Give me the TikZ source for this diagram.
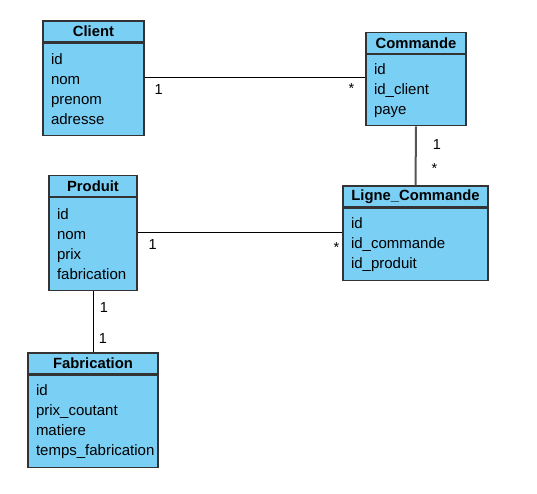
\documentclass[tikz,border=0pt]{standalone}
\usepackage{fontspec}
\setmainfont{Liberation Sans}
\usetikzlibrary{positioning}
\definecolor{classblue}{HTML}{7ACFF5}
\definecolor{classline}{HTML}{333333}
\definecolor{linkgray}{HTML}{555555}
\tikzset{
%Define style for the class boxes
class head/.style={draw=classline, fill=classblue, line width=1.2pt,
  minimum height=21pt, inner sep=0pt, font=\fontsize{14.8}{20}\selectfont\bfseries},
class body/.style={draw=classline, fill=classblue, line width=1.2pt,
  minimum height=#1, inner xsep=8pt, inner ysep=0pt, align=left,
  font=\fontsize{15}{20}\selectfont},
%Define style for the connections
link/.style={draw=black, line width=1pt},
strong link/.style={draw=linkgray, line width=2pt},
mult/.style={font=\fontsize{14.5}{16}\selectfont, inner sep=0pt},
}

\begin{document}
\begin{tikzpicture}[x=1pt,y=-1pt]
    \useasboundingbox (0,0) rectangle (537,494);
    % Heights of the connections
    \coordinate (y1) at (0,78);
    \coordinate (y2) at (0,232);

    % Classes
    \node[class head, minimum width=101pt] (client) at (93.5,31.5) {Client};
    \node[class body=92pt, text width=85pt, below=0pt of client] (clientb) {id\\nom\\prenom\\adresse};

    \node[class head, minimum width=100pt] (commande) at (416,43) {Commande};
    \node[class body=71pt, text width=84pt, below=0pt of commande] (commandeb) {id\\id\_client\\paye};

    \node[class head, minimum width=145pt] (ligne) at (415.5,196.5) {Ligne\_Commande};
    \node[class body=72pt, text width=129pt, below=0pt of ligne] (ligneb) {id\\id\_commande\\id\_produit};

    \node[class head, minimum width=88pt] (produit) at (93,186) {Produit};
    \node[class body=93pt, text width=72pt, below=0pt of produit] (produitb) {id\\nom\\prix\\fabrication};

    \node[class head, minimum width=130pt] (fabrication) at (93,363.5) {Fabrication};
    \node[class body=92pt, text width=114pt, below=0pt of fabrication] (fabricationb) {id\\prix\_coutant\\matiere\\temps\_fabrication};

    % Connections with multiplicities
    \draw[link] (clientb.east |- y1) -- (commandeb.west |- y1)
      node[mult, pos=0, xshift=14pt, yshift=-12pt] {1}
      node[mult, pos=1, xshift=-14pt, yshift=-11pt] {*};
    \draw[strong link] (commandeb.south) -- (ligne.north)
      node[mult, pos=0, xshift=21pt, yshift=-18pt] {1}
      node[mult, pos=1, xshift=19pt, yshift=17pt] {*};
    \draw[link] (produitb.east |- y2) -- (ligneb.west |- y2)
      node[mult, pos=0, xshift=15pt, yshift=-13pt] {1}
      node[mult, pos=1, xshift=-6pt, yshift=-16pt] {*};
    \draw[link] (produitb.south) -- (fabrication.north)
      node[mult, pos=0, xshift=11pt, yshift=-16pt] {1}
      node[mult, pos=1, xshift=10pt, yshift=14pt] {1};
\end{tikzpicture}
\end{document}
